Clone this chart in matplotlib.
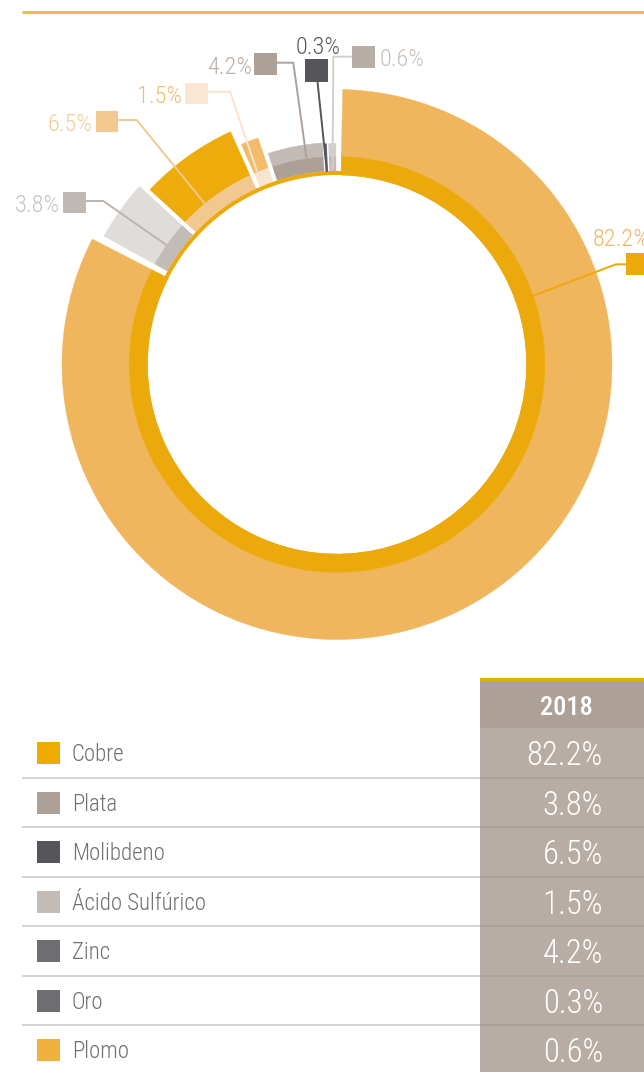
import numpy as np
import matplotlib
matplotlib.use('Agg')
import matplotlib.pyplot as plt
from matplotlib.patches import Wedge, Rectangle
from matplotlib import font_manager

# ---------------- data ----------------
categories = ['Cobre', 'Plata', 'Molibdeno', 'Ácido Sulfúrico', 'Zinc', 'Oro', 'Plomo']
shares = [82.2, 3.8, 6.5, 1.5, 4.2, 0.3, 0.6]
year_label = '2018'

# ---------------- style ----------------
legend_colors = ['#EDAB00', '#ADA197', '#55565A', '#C3BBB5', '#6D6E71', '#6D6E71', '#F0B13E']
outer_colors = ['#F0B65E', '#E0DCD9', '#EDAB0C', '#F2BC6B', '#C1BAB5', '#5E5F63', '#D3CDC8']
inner_colors = ['#ECA90C', '#C3BBB5', '#F2C890', '#F9E5CF', '#ADA197', '#55565A', '#C2BAB4']
outer_radius = [275, 266, 256, 240, 222, 221, 221]
label_colors = ['#F0B65E', '#C9C2BD', '#F3CB96', '#F2BC6B', '#B8AFA8', '#58595C', '#C8C0BA']
square_colors = ['#ECA90C', '#C0B8B2', '#F2C890', '#FAE6D2', '#ADA197', '#55565A', '#B7AEA6']
leader_colors = ['#ECA90C', '#BDB5AF', '#F2C890', '#F9E4CC', '#ADA197', '#55565A', '#D5CFCA']

# ---------------- font ----------------
fonts = font_manager.fontManager.ttflist
names = {f.name for f in fonts}
FONT = 'Liberation Sans'
for cand in ['Roboto Condensed', 'Liberation Sans Narrow', 'Archivo Narrow', 'PT Sans Narrow',
             'Open Sans Condensed', 'Barlow Condensed', 'IBM Plex Sans Condensed',
             'Encode Sans Condensed', 'Sofia Sans Condensed']:
    if cand in names:
        FONT = cand
        break
weights = {f.weight for f in fonts if f.name == FONT}
LIGHT = 300 if 300 in weights else 'normal'
plt.rcParams['font.family'] = [FONT, 'DejaVu Sans']

W, H = 644, 1072
fig = plt.figure(figsize=(W / 100, H / 100), dpi=100)
ax = fig.add_axes([0, 0, 1, 1])
ax.set_xlim(0, W)
ax.set_ylim(0, H)
ax.axis('off')


def Y(y):  # image row -> data y
    return H - y


cx, cy = 337, Y(364.5)
R_IN, R_THIN, R_MID = 189.5, 193.5, 208

# ---------------- donut ----------------
deg = [3.6 * s for s in shares]
# main share runs clockwise from the top
cobre_start = 88.8
spans = [(cobre_start - deg[0], cobre_start)]
# the rest are stacked counter-clockwise from the top
a = 90.3
small = []
for d in reversed(deg[1:]):
    small.append((a, a + d))
    a += d
spans += small[::-1]

for i, (t1, t2) in enumerate(spans):
    ax.add_patch(Wedge((cx, cy), outer_radius[i], t1, t2, width=outer_radius[i] - R_MID,
                       fc=outer_colors[i], ec=outer_colors[i], lw=0.3))
    rin = R_IN if i == 0 else R_THIN
    ax.add_patch(Wedge((cx, cy), R_MID, t1, t2, width=R_MID - rin,
                       fc=inner_colors[i], ec=inner_colors[i], lw=0.3))

# white separators between the small segments
for i in range(1, len(spans) - 1):
    ang = np.deg2rad(spans[i][0])
    r2 = max(outer_radius[i], outer_radius[i + 1]) + 3
    lw = 3.0 if min(shares[i], shares[i + 1]) >= 1 else 1.1
    ax.plot([cx + R_THIN * np.cos(ang), cx + r2 * np.cos(ang)],
            [cy + R_THIN * np.sin(ang), cy + r2 * np.sin(ang)],
            color='white', lw=lw, solid_capstyle='butt', zorder=3)

# thin continuous inner ring
ax.add_patch(Wedge((cx, cy), R_THIN, 0, 360, width=R_THIN - R_IN, fc='#ECA90C', ec='none', zorder=4))

# ---------------- labels (image coordinates) ----------------
label_layout = [
    dict(tx=593, tb=246, ha='left', sq=(626, 650, 253, 275), path=[(626, 264.3), (616, 264.3)], end=(19.3, 208)),
    dict(tx=60, tb=211.5, ha='right', sq=(63.3, 86, 191.7, 213.3), path=[(86, 201), (103.3, 201)], end=(145, 208)),
    dict(tx=92, tb=130.7, ha='right', sq=(96, 118.3, 110.5, 131.7), path=[(118.3, 120), (136.7, 120)], end=(129.4, 208)),
    dict(tx=182, tb=102.7, ha='right', sq=(185, 208.3, 82.7, 104), path=[(208.3, 91.7), (230, 91.7)], end=(112.5, 209)),
    dict(tx=252.5, tb=73.5, ha='right', sq=(254.3, 276.7, 53.3, 75), path=[(276.7, 62.7), (293.3, 62.7)], end=(98.4, 208)),
    dict(tx=318, tb=54, ha='center', sq=(305, 328.3, 59.3, 81.7), path=[(317.5, 81.7)], end=(93.0, 193)),
    dict(tx=380, tb=66, ha='left', sq=(351.7, 375, 46, 68.3), path=[(351.7, 56.7), (333.3, 56.7)], end=(91.3, 194)),
]

for i, lay in enumerate(label_layout):
    ang, r = lay['end']
    ex = cx + r * np.cos(np.deg2rad(ang))
    ey = cy + r * np.sin(np.deg2rad(ang))
    xs = [p[0] for p in lay['path']] + [ex]
    ys = [Y(p[1]) for p in lay['path']] + [ey]
    ax.plot(xs, ys, color=leader_colors[i], lw=1.4, zorder=6, solid_capstyle='butt')
    x0, x1, y0, y1 = lay['sq']
    ax.add_patch(Rectangle((x0, Y(y1)), x1 - x0, y1 - y0, fc=square_colors[i], ec='none', zorder=7))
    ax.text(lay['tx'], Y(lay['tb']), f'{shares[i]:.1f}%', ha=lay['ha'], va='baseline',
            fontsize=17.5, color=label_colors[i], fontweight=LIGHT, zorder=8)

# top rule
ax.plot([22, W], [Y(12), Y(12)], color='#F2B445', lw=2.0, solid_capstyle='butt')

# ---------------- table ----------------
col_x0 = 480
head_top, head_bot = 678, 728
row_h = 49.5
ax.add_patch(Rectangle((col_x0, Y(head_top + 3)), W - col_x0, 3, fc='#EBA80A', ec='none'))
ax.add_patch(Rectangle((col_x0, Y(head_bot)), W - col_x0, head_bot - head_top - 3, fc='#ADA197', ec='none'))
ax.add_patch(Rectangle((col_x0, 0), W - col_x0, Y(head_bot), fc='#B7ADA5', ec='none'))
ax.text(566, Y(715), year_label, ha='center', va='baseline', fontsize=19, color='white',
        fontweight='medium')

for i, (cat, val) in enumerate(zip(categories, shares)):
    top = head_bot + i * row_h
    yc = top + row_h / 2
    ax.add_patch(Rectangle((37, Y(yc + 11.5)), 23, 22, fc=legend_colors[i], ec='none'))
    ax.text(72, Y(yc + 8.7), cat, ha='left', va='baseline', fontsize=16.5, color='#6F7073',
            fontweight=LIGHT)
    ax.text(603, Y(yc + 12.5), f'{val:.1f}%', ha='right', va='baseline', fontsize=23.5,
            color='white', fontweight=LIGHT)
    if i < len(categories) - 1:
        ys = Y(top + row_h)
        ax.plot([22, col_x0], [ys, ys], color='#CCCCCC', lw=1.2, solid_capstyle='butt')
        ax.plot([col_x0, W], [ys, ys], color='#A8A09A', lw=1.2, solid_capstyle='butt')

fig.savefig('out.png', dpi=100)
